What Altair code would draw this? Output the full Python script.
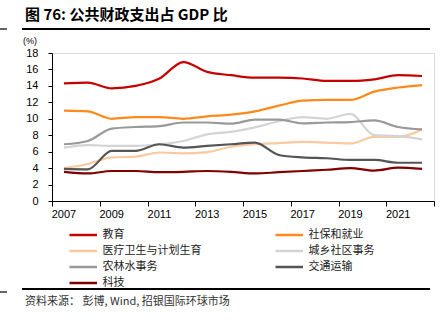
import altair as alt
import pandas as pd

years = list(range(2007, 2023))
series_names = ["教育", "社保和就业", "医疗卫生与计划生育", "城乡社区事务", "农林水事务", "交通运输", "科技"]
edu = [14.3, 14.4, 13.7, 14.0, 14.9, 16.9, 15.7, 15.3, 15.0, 15.0, 14.9, 14.6, 14.6, 14.8, 15.3, 15.2]
social = [11.0, 10.9, 10.0, 10.2, 10.2, 10.0, 10.3, 10.5, 10.9, 11.6, 12.2, 12.3, 12.3, 13.3, 13.8, 14.1]
health = [4.0, 4.5, 5.3, 5.4, 5.9, 5.8, 5.95, 6.6, 6.9, 7.05, 7.2, 7.1, 7.0, 7.8, 7.8, 8.7]
urban = [6.5, 6.8, 6.7, 6.7, 6.9, 7.3, 8.1, 8.4, 8.95, 9.7, 10.2, 10.0, 10.6, 8.0, 7.9, 7.5]
agri = [6.9, 7.3, 8.8, 9.0, 9.1, 9.55, 9.55, 9.4, 9.9, 9.9, 9.45, 9.55, 9.6, 9.8, 9.0, 8.7]
transport = [3.9, 3.85, 6.1, 6.1, 6.9, 6.5, 6.7, 6.9, 7.1, 5.6, 5.3, 5.2, 5.0, 5.0, 4.65, 4.65]
tech = [3.55, 3.35, 3.65, 3.65, 3.5, 3.55, 3.65, 3.55, 3.35, 3.5, 3.65, 3.8, 4.0, 3.7, 4.05, 3.9]
colors = ["#C40000", "#FF8A1C", "#FBC9A0", "#D4D4D4", "#999999", "#555555", "#800000"]
x_ticks = [2006.5 + 2 * i for i in range(9)]
x_labels = [2007, 2009, 2011, 2013, 2015, 2017, 2019, 2021]
y_ticks = list(range(0, 19, 2))

all_vals = [edu, social, health, urban, agri, transport, tech]
rows = []
for name, vals in zip(series_names, all_vals):
    for y, v in zip(years, vals):
        rows.append({"year": y, "value": v, "series": name})
df = pd.DataFrame(rows)

FONT = "Liberation Sans"
CJK = "Noto Sans CJK SC"

xscale = alt.Scale(domain=[2006.5, 2022.5], nice=False, zero=False)

lines = alt.Chart(df).mark_line(interpolate="monotone", strokeWidth=2.2).encode(
    x=alt.X("year:Q", scale=xscale,
            axis=alt.Axis(values=x_ticks, title=None, grid=False, domainColor="#000", tickColor="#000",
                          tickSize=5, labels=False)),
    y=alt.Y("value:Q", scale=alt.Scale(domain=[0, 18], nice=False),
            axis=alt.Axis(values=y_ticks, title=None, grid=False, domainColor="#000", tickColor="#000",
                          tickSize=4, labelPadding=10, labelFontSize=11, labelFont=FONT, labelColor="#000")),
    color=alt.Color("series:N", scale=alt.Scale(domain=series_names, range=colors),
                    legend=alt.Legend(title=None, orient="none", legendX=16, legendY=175, columns=2,
                                      direction="horizontal",
                                      columnPadding=68, rowPadding=4, symbolType="M-1,0H4",
                                      symbolSize=121, symbolStrokeWidth=2.5, labelFont=CJK,
                                      labelFontSize=11, labelColor="#222", labelOffset=20.5)),
    order=alt.Order("series:N"),
)

xlab = alt.Chart(pd.DataFrame({"lab": x_labels})).mark_text(
    font=FONT, fontSize=11, color="#000", align="center", baseline="middle").encode(
    x=alt.X("lab:Q", scale=xscale), y=alt.value(162), text=alt.Text("lab:N"))

one = pd.DataFrame([{"a": 1}])
title = alt.Chart(one).mark_text(text="图 76: 公共财政支出占 GDP 比", font=CJK, fontSize=15, fontWeight="bold",
                                 align="left", baseline="middle", color="#000").encode(
    x=alt.value(-27), y=alt.value(-38))
pct = alt.Chart(one).mark_text(text="(%)", font=FONT, fontSize=9, align="left", baseline="middle",
                               color="#000").encode(x=alt.value(-29), y=alt.value(-12))
top_rule = alt.Chart(one).mark_rule(color="#000", strokeWidth=2).encode(
    x=alt.value(-30), x2=alt.value(378), y=alt.value(-24))
bot_rule = alt.Chart(one).mark_rule(color="#000", strokeWidth=2).encode(
    x=alt.value(-30), x2=alt.value(378), y=alt.value(236))
edge_top = alt.Chart(one).mark_rule(color="#333", strokeWidth=1.5).encode(
    x=alt.value(-52), x2=alt.value(-45), y=alt.value(-24))
edge_bot = alt.Chart(one).mark_rule(color="#333", strokeWidth=1.5).encode(
    x=alt.value(-52), x2=alt.value(-45), y=alt.value(239))
source = alt.Chart(one).mark_text(text="资料来源： 彭博, Wind, 招银国际环球市场", font=CJK, fontSize=11,
                                  align="left", baseline="middle", color="#333").encode(
    x=alt.value(-27), y=alt.value(249))

chart = alt.layer(lines, xlab, title, pct, top_rule, bot_rule, edge_top, edge_bot, source).properties(
    width=382, height=148,
    autosize=alt.AutoSizeParams(type="none"),
    padding={"left": 52, "top": 53, "right": 13, "bottom": 124},
).configure_view(stroke=None).configure(background="#ffffff")

chart.save("out.html", embed_options={"renderer": "svg", "actions": False})
